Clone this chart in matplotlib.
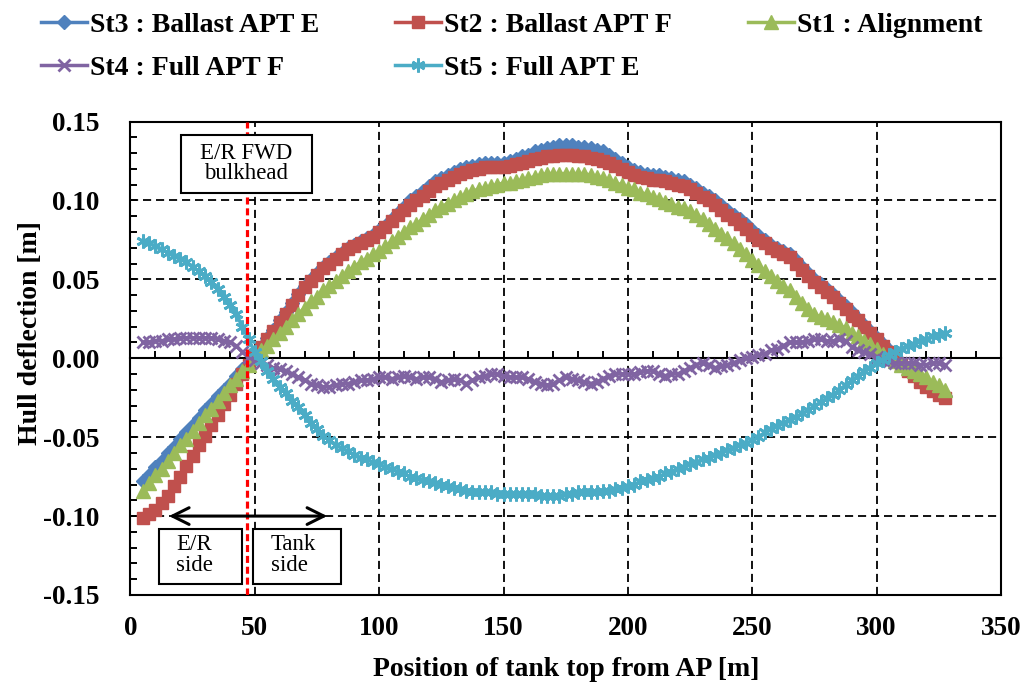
import matplotlib
matplotlib.use("Agg")
import matplotlib.pyplot as plt
from matplotlib.ticker import MultipleLocator, FormatStrFormatter
from matplotlib.patches import Rectangle

# position of tank top from AP [m]
pos = [5, 7.5, 10, 12.5, 15, 17.5, 20, 22.5, 25, 27.5,
       30, 32.5, 35, 37.5, 40, 42.5, 45, 47.5, 50, 52.5,
       55, 57.5, 60, 62.5, 65, 67.5, 70, 72.5, 75, 77.5,
       80, 82.5, 85, 87.5, 90, 92.5, 95, 97.5, 100, 102.5,
       105, 107.5, 110, 112.5, 115, 117.5, 120, 122.5, 125, 127.5,
       130, 132.5, 135, 137.5, 140, 142.5, 145, 147.5, 150, 152.5,
       155, 157.5, 160, 162.5, 165, 167.5, 170, 172.5, 175, 177.5,
       180, 182.5, 185, 187.5, 190, 192.5, 195, 197.5, 200, 202.5,
       205, 207.5, 210, 212.5, 215, 217.5, 220, 222.5, 225, 227.5,
       230, 232.5, 235, 237.5, 240, 242.5, 245, 247.5, 250, 252.5,
       255, 257.5, 260, 262.5, 265, 267.5, 270, 272.5, 275, 277.5,
       280, 282.5, 285, 287.5, 290, 292.5, 295, 297.5, 300, 302.5,
       305, 307.5, 310, 312.5, 315, 317.5, 320, 322.5, 325, 327.5]

# hull deflection [m]
st3 = [-0.078, -0.074, -0.069, -0.065, -0.060, -0.056, -0.051, -0.047, -0.042, -0.038,
       -0.033, -0.029, -0.024, -0.020, -0.016, -0.011, -0.007, -0.003, 0.002, 0.007,
       0.013, 0.018, 0.024, 0.029, 0.035, 0.041, 0.046, 0.050, 0.054, 0.058,
       0.061, 0.064, 0.067, 0.070, 0.072, 0.074, 0.076, 0.078, 0.081, 0.084,
       0.088, 0.092, 0.096, 0.100, 0.103, 0.106, 0.109, 0.112, 0.114, 0.116,
       0.118, 0.120, 0.121, 0.122, 0.123, 0.124, 0.124, 0.124, 0.124, 0.125,
       0.126, 0.128, 0.129, 0.131, 0.132, 0.133, 0.134, 0.135, 0.135, 0.135,
       0.134, 0.134, 0.133, 0.132, 0.131, 0.129, 0.126, 0.124, 0.121, 0.119,
       0.118, 0.117, 0.116, 0.116, 0.115, 0.114, 0.113, 0.112, 0.110, 0.108,
       0.105, 0.103, 0.100, 0.097, 0.094, 0.091, 0.088, 0.085, 0.081, 0.078,
       0.075, 0.072, 0.070, 0.068, 0.066, 0.062, 0.058, 0.054, 0.050, 0.047,
       0.044, 0.041, 0.037, 0.033, 0.029, 0.025, 0.021, 0.017, 0.013, 0.009,
       0.005, 0.001, -0.003, -0.007, -0.010, -0.014, -0.017, -0.020, -0.022, -0.024]
st2 = [-0.101, -0.099, -0.096, -0.092, -0.087, -0.081, -0.075, -0.068, -0.062, -0.055,
       -0.049, -0.042, -0.036, -0.029, -0.023, -0.016, -0.010, -0.004, 0.002, 0.007,
       0.012, 0.017, 0.023, 0.028, 0.034, 0.040, 0.045, 0.049, 0.053, 0.057,
       0.060, 0.063, 0.066, 0.069, 0.071, 0.073, 0.075, 0.077, 0.080, 0.083,
       0.087, 0.091, 0.094, 0.097, 0.100, 0.103, 0.106, 0.109, 0.111, 0.113,
       0.115, 0.117, 0.118, 0.119, 0.120, 0.121, 0.121, 0.121, 0.121, 0.122,
       0.123, 0.124, 0.125, 0.126, 0.127, 0.128, 0.128, 0.129, 0.129, 0.129,
       0.128, 0.128, 0.127, 0.126, 0.125, 0.124, 0.122, 0.120, 0.118, 0.116,
       0.115, 0.114, 0.113, 0.113, 0.112, 0.111, 0.110, 0.109, 0.107, 0.105,
       0.102, 0.100, 0.097, 0.094, 0.091, 0.088, 0.085, 0.082, 0.078, 0.075,
       0.073, 0.070, 0.068, 0.066, 0.064, 0.060, 0.056, 0.052, 0.048, 0.045,
       0.042, 0.039, 0.035, 0.031, 0.027, 0.024, 0.020, 0.016, 0.012, 0.008,
       0.004, 0.000, -0.004, -0.008, -0.011, -0.015, -0.018, -0.021, -0.023, -0.025]
st1 = [-0.084, -0.079, -0.074, -0.070, -0.065, -0.060, -0.055, -0.051, -0.046, -0.041,
       -0.036, -0.032, -0.027, -0.022, -0.017, -0.013, -0.008, -0.004, 0.001, 0.005,
       0.008, 0.012, 0.016, 0.020, 0.024, 0.028, 0.032, 0.036, 0.039, 0.043,
       0.046, 0.049, 0.052, 0.055, 0.058, 0.061, 0.063, 0.066, 0.068, 0.071,
       0.074, 0.077, 0.080, 0.083, 0.085, 0.088, 0.091, 0.094, 0.096, 0.098,
       0.100, 0.102, 0.104, 0.106, 0.107, 0.108, 0.109, 0.110, 0.111, 0.111,
       0.112, 0.113, 0.114, 0.115, 0.116, 0.117, 0.117, 0.117, 0.117, 0.117,
       0.117, 0.117, 0.116, 0.115, 0.114, 0.113, 0.111, 0.110, 0.108, 0.107,
       0.105, 0.104, 0.102, 0.101, 0.099, 0.098, 0.096, 0.095, 0.093, 0.091,
       0.088, 0.085, 0.082, 0.079, 0.076, 0.073, 0.069, 0.066, 0.062, 0.059,
       0.055, 0.052, 0.049, 0.046, 0.043, 0.039, 0.035, 0.031, 0.028, 0.026,
       0.025, 0.023, 0.021, 0.019, 0.016, 0.014, 0.011, 0.009, 0.006, 0.003,
       0.000, -0.002, -0.004, -0.006, -0.008, -0.010, -0.012, -0.015, -0.017, -0.020]
st4 = [0.010, 0.010, 0.011, 0.011, 0.012, 0.012, 0.013, 0.013, 0.013, 0.013,
       0.013, 0.013, 0.012, 0.011, 0.010, 0.008, 0.004, 0.001, -0.001, -0.003,
       -0.004, -0.006, -0.007, -0.008, -0.010, -0.012, -0.014, -0.016, -0.017, -0.018,
       -0.018, -0.017, -0.016, -0.016, -0.015, -0.014, -0.014, -0.013, -0.012, -0.012,
       -0.013, -0.012, -0.011, -0.012, -0.013, -0.012, -0.012, -0.013, -0.015, -0.014,
       -0.013, -0.014, -0.016, -0.014, -0.012, -0.011, -0.010, -0.010, -0.011, -0.012,
       -0.012, -0.012, -0.013, -0.015, -0.016, -0.017, -0.016, -0.014, -0.012, -0.013,
       -0.014, -0.015, -0.016, -0.015, -0.013, -0.011, -0.010, -0.010, -0.010, -0.010,
       -0.009, -0.008, -0.008, -0.010, -0.011, -0.010, -0.010, -0.008, -0.006, -0.004,
       -0.003, -0.004, -0.006, -0.005, -0.004, -0.003, -0.001, 0.000, 0.001, 0.002,
       0.003, 0.005, 0.006, 0.008, 0.010, 0.010, 0.010, 0.011, 0.012, 0.012,
       0.011, 0.011, 0.012, 0.011, 0.007, 0.005, 0.004, 0.003, 0.001, -0.001,
       -0.002, -0.003, -0.003, -0.003, -0.003, -0.004, -0.004, -0.003, -0.003, -0.004]
st5 = [0.074, 0.073, 0.071, 0.069, 0.067, 0.065, 0.063, 0.061, 0.058, 0.055,
       0.052, 0.048, 0.044, 0.039, 0.034, 0.028, 0.020, 0.012, 0.004, -0.002,
       -0.008, -0.013, -0.018, -0.022, -0.027, -0.031, -0.036, -0.041, -0.045, -0.049,
       -0.052, -0.055, -0.057, -0.059, -0.061, -0.063, -0.064, -0.066, -0.067, -0.069,
       -0.070, -0.072, -0.073, -0.075, -0.076, -0.077, -0.078, -0.079, -0.080, -0.081,
       -0.082, -0.083, -0.084, -0.085, -0.085, -0.085, -0.085, -0.086, -0.086, -0.086,
       -0.086, -0.086, -0.086, -0.086, -0.087, -0.087, -0.087, -0.087, -0.086, -0.086,
       -0.085, -0.085, -0.085, -0.085, -0.084, -0.084, -0.083, -0.082, -0.081, -0.080,
       -0.078, -0.077, -0.076, -0.075, -0.073, -0.072, -0.070, -0.069, -0.067, -0.066,
       -0.064, -0.063, -0.061, -0.060, -0.058, -0.057, -0.055, -0.054, -0.052, -0.050,
       -0.047, -0.045, -0.043, -0.041, -0.039, -0.037, -0.035, -0.033, -0.030, -0.028,
       -0.025, -0.023, -0.020, -0.017, -0.014, -0.011, -0.008, -0.006, -0.003, -0.001,
       0.002, 0.004, 0.006, 0.008, 0.009, 0.011, 0.012, 0.014, 0.015, 0.016]

labels = ["St3 : Ballast APT E", "St2 : Ballast APT F", "St1 : Alignment",
          "St4 : Full APT F", "St5 : Full APT E"]
bulkhead_x = 47.0

plt.rcParams["font.family"] = ["Liberation Serif", "DejaVu Serif"]
plt.rcParams["font.weight"] = "bold"
plt.rcParams["axes.unicode_minus"] = False

fig = plt.figure(figsize=(10.24, 6.9), dpi=100)
ax = fig.add_axes([0.1274, 0.1377, 0.8501, 0.6862])

styles = [
    (st3, "#4F81BD", "D", 7, 1.0),
    (st2, "#C0504D", "s", 9, 1.0),
    (st1, "#9BBB59", "^", 10, 1.0),
    (st4, "#8064A2", "x", 9, 2.0),
    (st5, "#4BACC6", (6, 2, 0), 10, 2.0),
]
handles = []
for (vals, col, mk, ms, mew), lab in zip(styles, labels):
    h, = ax.plot(pos, vals, color=col, lw=2.5, marker=mk, markersize=ms,
                 markeredgewidth=mew, markerfacecolor=col, markeredgecolor=col,
                 label=lab, zorder=3)
    handles.append(h)

ax.set_xlim(0, 350)
ax.set_ylim(-0.15, 0.15)
ax.xaxis.set_major_locator(MultipleLocator(50))
ax.yaxis.set_major_locator(MultipleLocator(0.05))
ax.yaxis.set_minor_locator(MultipleLocator(0.01))
ax.yaxis.set_major_formatter(FormatStrFormatter("%.2f"))
ax.tick_params(axis="y", which="both", direction="in", length=5, width=1.4,
               pad=22.5, labelsize=19.5)
ax.tick_params(axis="x", which="both", length=0, pad=15, labelsize=19.5)
ax.grid(True, which="major", color="black", linestyle=(0, (4.5, 2.7)), linewidth=1.3)
ax.set_axisbelow(True)
for s in ax.spines.values():
    s.set_linewidth(1.5)

# horizontal axis line crossing at zero, with ticks
zero = ax.secondary_xaxis(0.5)
zero.xaxis.set_major_locator(MultipleLocator(50))
zero.xaxis.set_minor_locator(MultipleLocator(10))
zero.tick_params(which="both", direction="out", length=5, width=1.4,
                 labeltop=False, labelbottom=False)
for s in zero.spines.values():
    s.set_linewidth(1.5)

ax.set_xlabel("Position of tank top from AP [m]", fontsize=20, fontweight="bold")
ax.xaxis.set_label_coords(0.5, -0.13)
ax.set_ylabel("Hull deflection [m]", fontsize=20, fontweight="bold")
ax.yaxis.set_label_coords(-0.1005, 0.553)

# bulkhead marker and notes
ax.axvline(bulkhead_x, color="#FF0000", linestyle=(0, (2.2, 1.2)), linewidth=2.3, zorder=6)
ax.add_patch(Rectangle((20.25, 0.1044), 52.75, 0.0372, facecolor="white",
                       edgecolor="black", linewidth=1.5, zorder=7))
ax.text(46.5, 0.1235, "E/R FWD\nbulkhead", ha="center", va="center", fontsize=16.5,
        fontweight="normal", linespacing=0.95, zorder=8)
ax.add_patch(Rectangle((11.5, -0.1429), 33.4, 0.0349, facecolor="white",
                       edgecolor="black", linewidth=1.5, zorder=7))
ax.text(18.3, -0.1245, "E/R\nside", ha="left", va="center", fontsize=16.5,
        fontweight="normal", linespacing=1.0, zorder=8)
ax.add_patch(Rectangle((49.4, -0.1429), 35.4, 0.0349, facecolor="white",
                       edgecolor="black", linewidth=1.5, zorder=7))
ax.text(56.5, -0.1245, "Tank\nside", ha="left", va="center", fontsize=16.5,
        fontweight="normal", linespacing=1.0, zorder=8)
ax.annotate("", xy=(15.5, -0.1), xytext=(79.1, -0.1),
            arrowprops=dict(arrowstyle="<->,head_length=0.4,head_width=0.2", lw=2.2,
                            color="black", mutation_scale=30, shrinkA=0, shrinkB=0),
            zorder=7)

order = [0, 3, 1, 4, 2]
fig.legend([handles[i] for i in order], [labels[i] for i in order],
           loc="upper left", bbox_to_anchor=(0.040, 0.982), ncol=3, frameon=False,
           prop=dict(size=20, weight="bold"), handlelength=1.65, handletextpad=0.1,
           columnspacing=2.75, labelspacing=0.64, borderpad=0, borderaxespad=0)

fig.savefig("out.png", dpi=100)
